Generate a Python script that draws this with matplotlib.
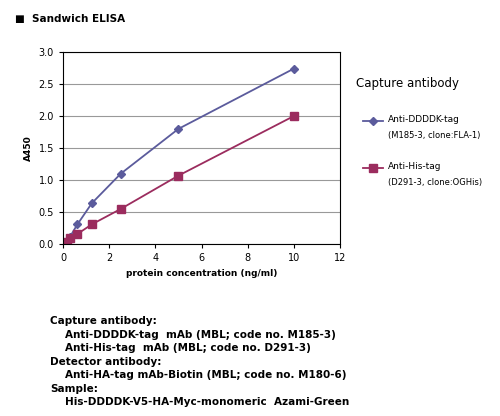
import matplotlib.pyplot as plt

conc = [0, 0.16, 0.31, 0.625, 1.25, 2.5, 5, 10]
flag = [0.02, 0.05, 0.12, 0.31, 0.64, 1.10, 1.80, 2.74]
his = [0.02, 0.04, 0.09, 0.16, 0.31, 0.55, 1.07, 2.00]

plt.rcParams['font.family'] = ['DejaVu Sans']
fig = plt.figure(figsize=(5, 4.16), dpi=100)
ax = fig.add_axes([0.126, 0.413, 0.554, 0.462])

ax.plot(conc, flag, color='#5b5b9c', marker='D', markersize=4, lw=1.3)
ax.plot(conc, his, color='#9b2c5e', marker='s', markersize=6, lw=1.3)

ax.set_xlim(0, 12)
ax.set_ylim(0, 3.0)
ax.set_xticks(range(0, 13, 2))
ax.set_yticks([0, 0.5, 1.0, 1.5, 2.0, 2.5, 3.0])
ax.set_yticklabels([f'{v:.1f}' for v in ax.get_yticks()])
ax.tick_params(labelsize=7, length=3)
ax.yaxis.grid(True, color='#999999', lw=0.8)
ax.set_axisbelow(True)
ax.set_xlabel('protein concentration (ng/ml)', fontsize=6.5, fontweight='bold')
ax.set_ylabel('A450', fontsize=6.5, fontweight='bold')

fig.text(0.03, 0.955, '■  Sandwich ELISA', fontsize=7.5, fontweight='bold', va='center')

fig.text(0.712, 0.8, 'Capture antibody', fontsize=8.5, va='center')
fig.lines.append(plt.Line2D([0.725, 0.745, 0.765], [0.71] * 3, color='#5b5b9c', marker='D',
                            markersize=4, markevery=[1], lw=1.3, transform=fig.transFigure))
fig.lines.append(plt.Line2D([0.725, 0.745, 0.765], [0.597] * 3, color='#9b2c5e', marker='s',
                            markersize=6, markevery=[1], lw=1.3, transform=fig.transFigure))
fig.text(0.776, 0.712, 'Anti-DDDDK-tag', fontsize=6.5, va='center')
fig.text(0.776, 0.674, '(M185-3, clone:FLA-1)', fontsize=6, va='center')
fig.text(0.776, 0.599, 'Anti-His-tag', fontsize=6.5, va='center')
fig.text(0.776, 0.561, '(D291-3, clone:OGHis)', fontsize=6, va='center')

lines = [
    (0.1, 'Capture antibody:'),
    (0.13, 'Anti-DDDDK-tag  mAb (MBL; code no. M185-3)'),
    (0.13, 'Anti-His-tag  mAb (MBL; code no. D291-3)'),
    (0.1, 'Detector antibody:'),
    (0.13, 'Anti-HA-tag mAb-Biotin (MBL; code no. M180-6)'),
    (0.1, 'Sample:'),
    (0.13, 'His-DDDDK-V5-HA-Myc-monomeric  Azami-Green'),
]
y = 0.228
for x, t in lines:
    fig.text(x, y, t, fontsize=7.5, fontweight='bold', va='center')
    y -= 0.0325

fig.savefig('out.png')
